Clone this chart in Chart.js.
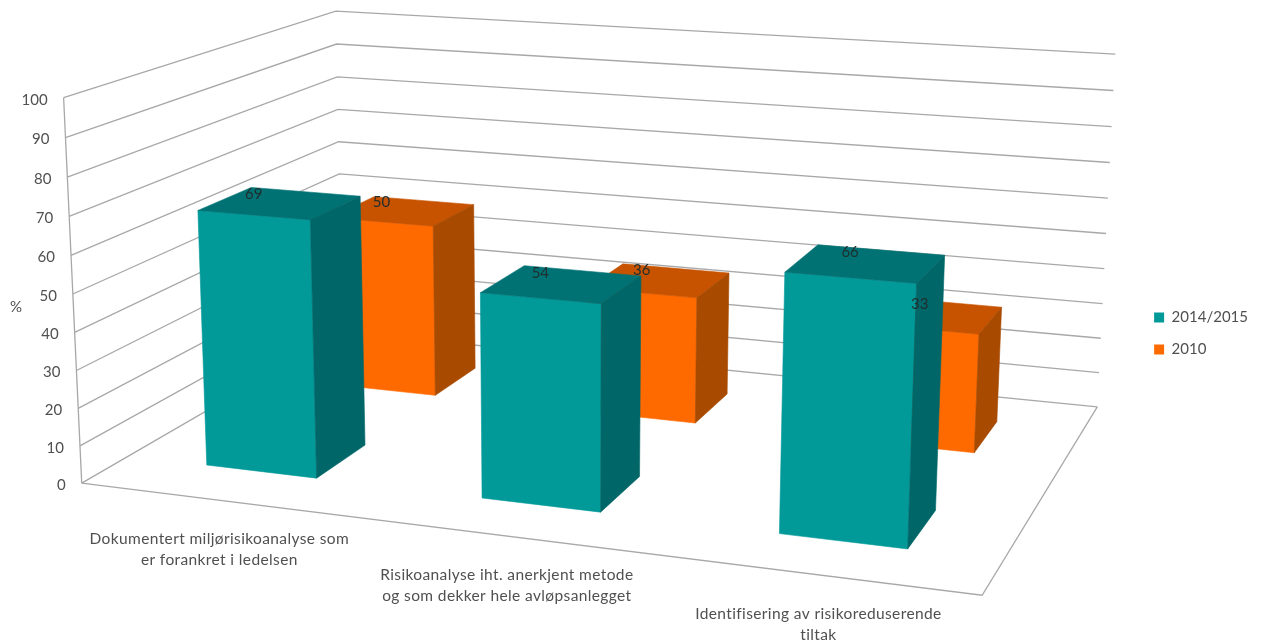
<!DOCTYPE html>
<html>
<head>
<meta charset="utf-8">
<style>html,body{margin:0;padding:0;background:#fff}canvas{display:block;filter:blur(.5px)}</style>
<script src="https://cdn.jsdelivr.net/npm/chart.js@4/dist/chart.umd.min.js"></script>
</head>
<body>
<canvas id="c" width="1264" height="641"></canvas>
<script>
const categories = [
  ["Dokumentert miljørisikoanalyse som", "er forankret i ledelsen"],
  ["Risikoanalyse iht. anerkjent metode", "og som dekker hele avløpsanlegget"],
  ["Identifisering av risikoreduserende", "tiltak"]
];
const seriesNames = ["2014/2015", "2010"];
const values2014 = [69, 54, 66];
const values2010 = [50, 36, 33];
const faceColors = ["#029999", "#ff6a00"];
const topColors = ["#017273", "#c75300"];
const sideColors = ["#016668", "#a84a00"];
const axisTitle = "%";

// Camera calibration: cube corners (u across, v up, w into the page) -> page
const calib = [
  [0,0,0, 82,481],[0,1,0, 63,99],[0,1,0, 63,99],[0,1,1, 337,10],[0,0,1, 342,335],
  [1,1,1, 1115,54],[1,0,1, 1097,406],[1,0,0, 983,596],
  [0,.5,0, 73,293],[0,.5,1, 339.5,172.5],[1,.5,1, 1106,234]
];
const rowDepth = [[0.155,0.345],[0.66,0.85]];
const rowShift = [0,-0.003];
const halfWidth = 0.068;
const barHeightFit = 0.988;

function solve(A,b){
  const n=b.length, M=A.map((r,i)=>[...r,b[i]]);
  for(let i=0;i<n;i++){
    let p=i; for(let k=i+1;k<n;k++) if(Math.abs(M[k][i])>Math.abs(M[p][i])) p=k;
    [M[i],M[p]]=[M[p],M[i]];
    for(let k=i+1;k<n;k++){const f=M[k][i]/M[i][i]; for(let j=i;j<=n;j++) M[k][j]-=f*M[i][j];}
  }
  const x=new Array(n).fill(0);
  for(let i=n-1;i>=0;i--){let s=M[i][n]; for(let j=i+1;j<n;j++) s-=M[i][j]*x[j]; x[i]=s/M[i][i];}
  return x;
}
function fitCamera(){
  const rows=[],rhs=[];
  calib.forEach(([X,Y,Z,x,y])=>{
    rows.push([X,Y,Z,1,0,0,0,0,-x*X,-x*Y,-x*Z]); rhs.push(x);
    rows.push([0,0,0,0,X,Y,Z,1,-y*X,-y*Y,-y*Z]); rhs.push(y);
  });
  const n=11, A=[...Array(n)].map(()=>new Array(n).fill(0)), b=new Array(n).fill(0);
  rows.forEach((r,k)=>{for(let i=0;i<n;i++){b[i]+=r[i]*rhs[k]; for(let j=0;j<n;j++) A[i][j]+=r[i]*r[j];}});
  return solve(A,b);
}
const P=fitCamera();
function project(u,v,w){
  const d=P[8]*u+P[9]*v+P[10]*w+1;
  return {x:(P[0]*u+P[1]*v+P[2]*w+P[3])/d, y:(P[4]*u+P[5]*v+P[6]*w+P[7])/d};
}
function poly(ctx,pts,color){
  ctx.beginPath(); pts.forEach((p,i)=>i?ctx.lineTo(p.x,p.y):ctx.moveTo(p.x,p.y)); ctx.closePath();
  ctx.fillStyle=color; ctx.strokeStyle=color; ctx.lineWidth=.6; ctx.fill(); ctx.stroke();
}
function seg(ctx,a,b){ctx.beginPath();ctx.moveTo(a.x,a.y);ctx.lineTo(b.x,b.y);ctx.stroke();}

const perspective3d={
  id:'perspective3d',
  beforeDatasetDraw(){return false;},
  beforeDatasetsDraw(chart){
    const ctx=chart.ctx, xs=chart.scales.x, ys=chart.scales.y, area=chart.chartArea;
    const vOf=val=>(ys.bottom-ys.getPixelForValue(val))/(ys.bottom-ys.top);
    ctx.save();
    // walls and floor
    ctx.strokeStyle='#a8a8a8'; ctx.lineWidth=1.3;
    ys.ticks.forEach(t=>{
      const v=vOf(t.value), a=project(0,v,0), b=project(0,v,1), c=project(1,v,1);
      ctx.beginPath();ctx.moveTo(a.x,a.y);ctx.lineTo(b.x,b.y);ctx.lineTo(c.x,c.y);ctx.stroke();
    });
    seg(ctx,project(0,0,0),project(0,1,0));
    ctx.beginPath();
    [project(0,0,0),project(1,0,0),project(1,0,1)].forEach((p,i)=>i?ctx.lineTo(p.x,p.y):ctx.moveTo(p.x,p.y));
    ctx.stroke();
    // y tick labels and axis title
    ctx.fillStyle='#505050'; ctx.font='15px Lato'; ctx.textAlign='right'; ctx.textBaseline='middle';
    ys.ticks.forEach(t=>{
      const a=project(0,vOf(t.value),0);
      ctx.fillText(t.label,a.x-16,a.y+2);
    });
    ctx.textAlign='center';
    ctx.fillText(ys.options.title.text,16,307);
    // category labels
    ctx.font='15.5px Lato'; ctx.letterSpacing='0.38px';
    categories.forEach((lines,i)=>{
      const u=(xs.getPixelForTick(i)-area.left)/(area.right-area.left);
      const f=project(u,0,0);
      lines.forEach((s,k)=>ctx.fillText(s,f.x+2,f.y+39+k*21));
    });
    ctx.letterSpacing='0px';
    // bars, back row first
    [1,0].forEach(ds=>{
      const meta=chart.getDatasetMeta(ds), [w0,w1]=rowDepth[ds];
      meta.data.forEach((el,i)=>{
        const u=(xs.getPixelForTick(i)-area.left)/(area.right-area.left)+rowShift[ds];
        const v=barHeightFit*(ys.bottom-el.y)/(ys.bottom-ys.top), u0=u-halfWidth, u1=u+halfWidth;
        poly(ctx,[project(u0,0,w0),project(u1,0,w0),project(u1,v,w0),project(u0,v,w0)],faceColors[ds]);
        poly(ctx,[project(u0,v,w0),project(u1,v,w0),project(u1,v,w1),project(u0,v,w1)],topColors[ds]);
        poly(ctx,[project(u1,0,w0),project(u1,0,w1),project(u1,v,w1),project(u1,v,w0)],sideColors[ds]);
      });
    });
    ctx.restore();
  },
  afterDatasetsDraw(chart){
    const ctx=chart.ctx, xs=chart.scales.x, ys=chart.scales.y, area=chart.chartArea;
    ctx.save();
    ctx.fillStyle='#1f2e2e'; ctx.font='15px Lato'; ctx.textAlign='center'; ctx.textBaseline='middle';
    [1,0].forEach(ds=>{
      const meta=chart.getDatasetMeta(ds), [w0,w1]=rowDepth[ds];
      meta.data.forEach((el,i)=>{
        const u=(xs.getPixelForTick(i)-area.left)/(area.right-area.left)+rowShift[ds];
        const v=barHeightFit*(ys.bottom-el.y)/(ys.bottom-ys.top);
        const f=project(u,v,w0), b=project(u,v,w1);
        ctx.fillText(chart.data.datasets[ds].data[i], f.x, b.y+2);
      });
    });
    ctx.restore();
  }
};

new Chart(document.getElementById('c'),{
  type:'bar',
  data:{labels:categories,datasets:[
    {label:seriesNames[0],data:values2014,backgroundColor:faceColors[0]},
    {label:seriesNames[1],data:values2010,backgroundColor:faceColors[1]}
  ]},
  plugins:[perspective3d],
  options:{
    responsive:false,animation:false,
    layout:{padding:{top:26,right:6}},
    scales:{
      x:{display:false},
      y:{display:false,min:0,max:100,ticks:{stepSize:10},title:{display:false,text:axisTitle}}
    },
    plugins:{
      legend:{position:'right',labels:{boxWidth:10,boxHeight:10,padding:17,color:'#505050',font:{family:'Lato',size:15}}},
      tooltip:{enabled:false}
    }
  }
});
</script>
</body>
</html>
